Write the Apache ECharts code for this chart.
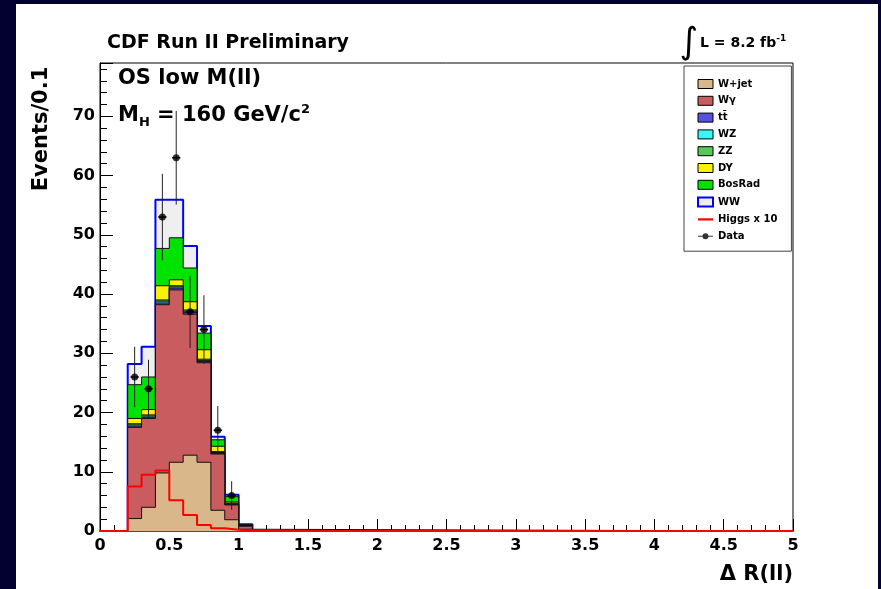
<!DOCTYPE html>
<html>
<head>
<meta charset="utf-8">
<script src="https://cdn.jsdelivr.net/npm/echarts@6/dist/echarts.min.js"></script>
<style>
html,body{margin:0;padding:0;background:#03012f;width:881px;height:589px;overflow:hidden;}
#frame{position:absolute;left:16px;top:4px;width:862px;height:585px;background:#ffffff;}
#chart{position:absolute;left:0;top:0;width:881px;height:589px;}
</style>
</head>
<body>
<div id="frame"></div>
<div id="chart"></div>
<script>
// ---- data ----
const binEdges = [0.2, 0.3, 0.4, 0.5, 0.6, 0.7, 0.8, 0.9, 1.0, 1.1];
const wjet    = [2.1, 4.0, 9.8, 11.6, 12.8, 11.6, 3.5, 1.9, 0.3];
const wgamma  = [15.4, 15.0, 28.4, 29.1, 23.8, 16.8, 9.5, 2.5, 0.5];
const ttbar   = [0.2, 0.2, 0.3, 0.3, 0.3, 0.2, 0.1, 0.1, 0.05];
const wz      = [0.2, 0.2, 0.3, 0.2, 0.2, 0.2, 0.15, 0.1, 0.05];
const zz      = [0.2, 0.2, 0.2, 0.2, 0.2, 0.2, 0.15, 0.1, 0.05];
const dy      = [0.9, 0.9, 2.4, 1.0, 1.4, 1.6, 0.9, 0.2, 0.05];
const bosrad  = [5.7, 5.5, 6.3, 7.1, 5.7, 2.8, 1.1, 0.9, 0.05];
const ww      = [3.5, 5.1, 8.2, 6.4, 3.7, 1.2, 0.5, 0.3, 0.1];
const higgs10 = [7.5, 9.5, 10.2, 5.2, 2.7, 1.0, 0.45, 0.2, 0];
const dataX   = [0.25, 0.35, 0.45, 0.55, 0.65, 0.75, 0.85, 0.95];
const dataY   = [26, 24, 53, 63, 37, 34, 17, 6];
const dataErr = [5.1, 4.9, 7.3, 7.9, 6.1, 5.8, 4.1, 2.4];
const xRange  = [0, 5];
const yRange  = [0, 79];

const layers = [
  {name: 'W+jet',  vals: wjet,   color: '#dab78b'},
  {name: 'Wγ',     vals: wgamma, color: '#c95c5e'},
  {name: 'tt̄',    vals: ttbar,  color: '#5454e2'},
  {name: 'WZ',     vals: wz,     color: '#3af5f5'},
  {name: 'ZZ',     vals: zz,     color: '#58c858'},
  {name: 'DY',     vals: dy,     color: '#f7f200'},
  {name: 'BosRad', vals: bosrad, color: '#00e300'},
  {name: 'WW',     vals: ww,     color: '#efefef', line: '#0000ff', lw: 2}
];

function stepData(vals) {
  const d = [[xRange[0], 0]];
  vals.forEach((v, i) => d.push([binEdges[i], v]));
  d.push([binEdges[vals.length], 0]);
  d.push([xRange[1], 0]);
  return d;
}

// cumulative stack
let running = new Array(binEdges.length - 1).fill(0);
const stackSeries = [];
layers.forEach((L, k) => {
  running = running.map((r, i) => r + L.vals[i]);
  stackSeries.push({
    name: L.name,
    type: 'line',
    step: 'end',
    data: stepData(running.slice()),
    symbol: 'none',
    showSymbol: false,
    silent: true,
    z: 10 - k,
    color: L.color,
    lineStyle: {color: L.line || '#111', width: L.lw || 1},
    areaStyle: {color: L.color, opacity: 1},
    emphasis: {disabled: true}
  });
});

const higgsSeries = {
  name: 'Higgs x 10', type: 'line', step: 'end', clip: false,
  data: stepData(higgs10), symbol: 'none', showSymbol: false, silent: true,
  z: 12, color: '#ff0000', lineStyle: {color: '#ff0000', width: 2},
  emphasis: {disabled: true}
};

const errSeries = {
  name: 'err', type: 'custom', z: 13, silent: true,
  data: dataX.map((x, i) => [x, dataY[i] - dataErr[i], dataY[i] + dataErr[i], dataY[i]]),
  renderItem: function (params, api) {
    const x = api.value(0);
    const p1 = api.coord([x, api.value(1)]);
    const p2 = api.coord([x, api.value(2)]);
    const pc = api.coord([x, api.value(3)]);
    const hw = api.size([0.03, 0])[0];
    return {type: 'group', children: [
      {type: 'line', shape: {x1: p1[0], y1: p1[1], x2: p2[0], y2: p2[1]}, style: {stroke: '#222', lineWidth: 1}},
      {type: 'line', shape: {x1: pc[0] - hw, y1: pc[1], x2: pc[0] + hw, y2: pc[1]}, style: {stroke: '#000', lineWidth: 1.5}}
    ]};
  }
};

const dataSeries = {
  name: 'Data', type: 'scatter', z: 14, silent: true,
  data: dataX.map((x, i) => [x, dataY[i]]),
  symbol: 'circle', symbolSize: 7, color: '#000'
};

const FONT = '"DejaVu Sans", "Liberation Sans", sans-serif';

const legendData = layers.map(L => ({
  name: L.name, icon: 'rect',
  itemStyle: {color: L.color, borderColor: L.line || '#000', borderWidth: L.lw ? 2 : 1}
}));
legendData.push({name: 'Higgs x 10', icon: 'path://M0,0L20,0L20,3L0,3Z', itemStyle: {color: '#ff0000', borderWidth: 0}});
legendData.push({name: 'Data', icon: 'path://M0,3.4L20,3.4L20,4.6L0,4.6Z M14,4A4,4 0 1,1 6,4A4,4 0 1,1 14,4Z', itemStyle: {color: '#000', borderWidth: 0}});

const chart = echarts.init(document.getElementById('chart'), null, {renderer: 'canvas'});
chart.setOption({
  animation: false,
  backgroundColor: 'transparent',
  textStyle: {fontFamily: FONT},
  grid: {left: 100, top: 63, width: 693, height: 468, show: true, borderColor: '#000', borderWidth: 1, backgroundColor: 'transparent'},
  xAxis: {
    type: 'value', min: xRange[0], max: xRange[1], interval: 0.5,
    axisLine: {show: true, onZero: false, lineStyle: {color: '#ff0000', width: 2}},
    axisTick: {show: true, inside: true, length: 12, lineStyle: {color: '#000'}},
    minorTick: {show: true, splitNumber: 5, length: 6, lineStyle: {color: '#000'}},
    splitLine: {show: false},
    axisLabel: {margin: 7, color: '#000', fontFamily: FONT, fontWeight: 'bold', fontSize: 16,
      formatter: v => String(Math.round(v * 10) / 10)}
  },
  yAxis: {
    type: 'value', min: yRange[0], max: yRange[1], interval: 10,
    axisLine: {show: true, lineStyle: {color: '#000', width: 1}},
    axisTick: {show: true, inside: true, length: 13, lineStyle: {color: '#000'}},
    minorTick: {show: true, splitNumber: 5, length: 7, lineStyle: {color: '#000'}},
    splitLine: {show: false},
    axisLabel: {margin: 5, color: '#000', fontFamily: FONT, fontWeight: 'bold', fontSize: 16,
      formatter: v => (Math.abs(v % 10) < 1e-6 ? String(v) : '')}
  },
  legend: {
    orient: 'vertical', left: 684, top: 66, padding: [13, 14, 10, 13],
    itemWidth: 15, itemHeight: 9, itemGap: 6.8,
    borderColor: '#444', borderWidth: 1, backgroundColor: '#fff',
    selectedMode: false,
    textStyle: {fontFamily: FONT, fontWeight: 'bold', fontSize: 10, color: '#000', lineHeight: 10},
    data: legendData
  },
  graphic: {elements: [
    {type: 'text', x: 107, y: 43, style: {text: 'CDF Run II Preliminary', font: 'bold 19px ' + FONT, fill: '#000', align: 'left', verticalAlign: 'middle'}},
    {type: 'text', x: 689, y: 44, style: {text: '∫', font: '36px ' + FONT, fill: '#000', align: 'center', verticalAlign: 'middle'}},
    {type: 'text', x: 700, y: 43, style: {text: '{b|L = 8.2 fb}{p|-1}', fill: '#000', align: 'left', verticalAlign: 'middle',
      rich: {b: {font: 'bold 14px ' + FONT, fill: '#000', lineHeight: 18}, p: {font: 'bold 9px ' + FONT, fill: '#000', verticalAlign: 'top', lineHeight: 6}}}},
    {type: 'text', x: 118, y: 79, style: {text: 'OS low M(ll)', font: 'bold 21px ' + FONT, fill: '#000', align: 'left', verticalAlign: 'middle'}},
    {type: 'text', x: 118, y: 116, style: {text: '{m|M}{s|H}{m| = 160 GeV/c}{p|2}', fill: '#000', align: 'left', verticalAlign: 'middle',
      rich: {m: {font: 'bold 21px ' + FONT, fill: '#000', lineHeight: 26}, s: {font: 'bold 13px ' + FONT, fill: '#000', verticalAlign: 'bottom', lineHeight: 4}, p: {font: 'bold 13px ' + FONT, fill: '#000', verticalAlign: 'top', lineHeight: 8}}}},
    {type: 'text', x: 42, y: 129, rotation: Math.PI / 2, style: {text: 'Events/0.1', font: 'bold 21px ' + FONT, fill: '#000', align: 'center', verticalAlign: 'middle'}},
    {type: 'text', x: 793, y: 575, style: {text: 'Δ R(ll)', font: 'bold 21px ' + FONT, fill: '#000', align: 'right', verticalAlign: 'middle'}}
  ]},
  series: [...stackSeries, higgsSeries, errSeries, dataSeries]
});
</script>
</body>
</html>
